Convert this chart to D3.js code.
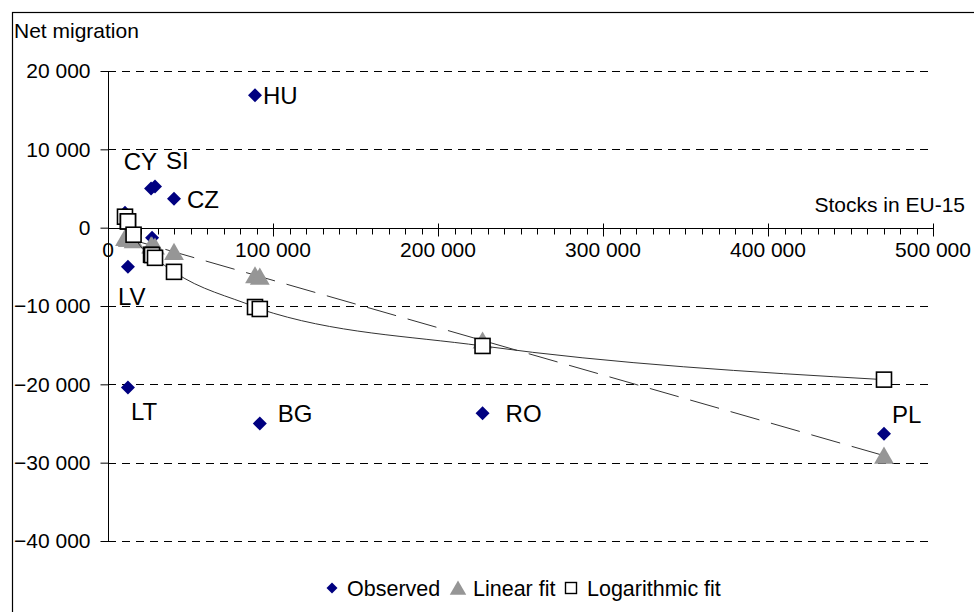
<!DOCTYPE html>
<html>
<head>
<meta charset="utf-8">
<script src="https://cdn.jsdelivr.net/npm/d3@7"></script>
<style>
  html, body { margin: 0; padding: 0; background: #fff; }
  svg { display: block; font-family: "Liberation Sans", Arial, sans-serif; }
</style>
</head>
<body>
<svg id="chart" width="974" height="612"></svg>
<script>
// Migrant stocks in EU-15 (x) against net migration (y), one entry per country
const countries  = ["EE", "LV", "LT", "SK", "CY", "MT", "SI", "CZ", "HU", "BG", "RO", "PL"];
const pointLabels = ["", "LV", "LT", "", "CY", "", "SI", "CZ", "HU", "BG", "RO", "PL"];
const stocks     = [10300, 12100, 12100, 15500, 26100, 26700, 28500, 40000, 89100, 92000, 227000, 470300];
const observed   = [1900, -5000, -20400, -900, 5000, -1300, 5260, 3700, 16900, -25000, -23700, -26300];
const linearFit  = [-1300, -1400, -1400, -1600, -2250, -2280, -2390, -3090, -6060, -6240, -14400, -29100];
const logFit     = [1400, 800, 800, -900, -3460, -3500, -3850, -5640, -10130, -10380, -15100, -19400];

const xTicks = [0, 100000, 200000, 300000, 400000, 500000];
const yTicks = [20000, 10000, 0, -10000, -20000, -30000, -40000];
const seriesNames = ["Observed", "Linear fit", "Logarithmic fit"];

const svg = d3.select("#chart");
const fmt = v => d3.format(",")(v).replace(/,/g, " ");

const x = d3.scaleLinear().domain([0, 500000]).range([108, 933]);
const y = d3.scaleLinear().domain([-40000, 20000]).range([541, 71]);

const navy = "#000080", grey = "#969696";

// outer frame
svg.append("rect").attr("x", 12.5).attr("y", 12.5).attr("width", 980).attr("height", 620)
  .attr("fill", "none").attr("stroke", "#000").attr("stroke-width", 1.2);

// horizontal dashed gridlines
svg.append("g").selectAll("line").data(yTicks).join("line")
  .attr("x1", 108).attr("x2", 930)
  .attr("y1", d => Math.round(y(d)) + 0.5).attr("y2", d => Math.round(y(d)) + 0.5)
  .attr("stroke", "#000").attr("stroke-width", 1).attr("stroke-dasharray", "8,6");

// y axis
const yAxis = d3.axisLeft(y).tickValues(yTicks).tickSize(8).tickFormat(fmt);
const gy = svg.append("g").attr("transform", "translate(108.5,0)").call(yAxis);
gy.select(".domain").attr("d", `M0,${y(20000)}V${y(-40000)}`).attr("stroke", "#000");
gy.selectAll(".tick text").attr("font-size", 21).attr("fill", "#000").attr("x", -18)
  .attr("font-family", "Liberation Sans, Arial, sans-serif");
gy.selectAll(".tick line").attr("stroke", "#000");

// x axis at zero with minor ticks every 10 000
const y0 = Math.round(y(0)) + 0.5;
const gx = svg.append("g");
gx.append("line").attr("x1", x(0)).attr("x2", x(500000)).attr("y1", y0).attr("y2", y0).attr("stroke", "#000");
gx.selectAll("line.minor").data(d3.range(0, 500001, 10000)).join("line").attr("class", "minor")
  .attr("x1", d => Math.round(x(d)) + 0.5).attr("x2", d => Math.round(x(d)) + 0.5)
  .attr("y1", y0).attr("y2", y0 + 6).attr("stroke", "#000");
gx.selectAll("line.major").data(xTicks).join("line").attr("class", "major")
  .attr("x1", d => Math.round(x(d)) + 0.5).attr("x2", d => Math.round(x(d)) + 0.5)
  .attr("y1", y0 - 5).attr("y2", y0 + 8).attr("stroke", "#000");
gx.selectAll("text").data(xTicks).join("text")
  .attr("x", d => x(d)).attr("y", y0 + 28).attr("text-anchor", "middle")
  .attr("font-size", 21).text(fmt);

// axis titles
svg.append("text").attr("x", 14).attr("y", 38).attr("font-size", 21).text("Net migration");
svg.append("text").attr("x", 965).attr("y", 212).attr("text-anchor", "end").attr("font-size", 21).text("Stocks in EU-15");

const pts = countries.map((c, i) => ({ c, label: pointLabels[i], sx: stocks[i], obs: observed[i], lin: linearFit[i], log: logFit[i] }));
const byX = pts.slice().sort((a, b) => a.sx - b.sx);

// marker shapes
const diamond = r => `M0,${-r}L${r},0L0,${r}L${-r},0Z`;
const triangle = r => `M0,${-r}L${r * 1.1},${r * 0.9}L${-r * 1.1},${r * 0.9}Z`;

// observed
svg.append("g").selectAll("path").data(pts).join("path")
  .attr("transform", d => `translate(${x(d.sx)},${y(d.obs)})`)
  .attr("d", diamond(7)).attr("fill", navy);

// linear fit line + markers
svg.append("path").datum(byX)
  .attr("d", d3.line().x(d => x(d.sx)).y(d => y(d.lin)))
  .attr("fill", "none").attr("stroke", "#333").attr("stroke-width", 1).attr("stroke-dasharray", "30,12");
svg.append("g").selectAll("path").data(pts).join("path")
  .attr("transform", d => `translate(${x(d.sx)},${y(d.lin)})`)
  .attr("d", triangle(9)).attr("fill", grey);

// logarithmic fit line + markers
svg.append("path").datum(byX)
  .attr("d", d3.line().x(d => x(d.sx)).y(d => y(d.log)).curve(d3.curveMonotoneX))
  .attr("fill", "none").attr("stroke", "#333").attr("stroke-width", 1);
svg.append("g").selectAll("rect").data(pts).join("rect")
  .attr("x", d => x(d.sx) - 7.5).attr("y", d => y(d.log) - 7.5)
  .attr("width", 15).attr("height", 15)
  .attr("fill", "#fff").attr("stroke", "#000").attr("stroke-width", 1.6);

// country labels, placed beside their observed markers
const labelOffset = {
  HU: [8, 9, "start"], CY: [6, -19, "end"], SI: [11, -17, "start"], CZ: [13, 9, "start"],
  LV: [-10, 38, "start"], LT: [3, 33, "start"], BG: [18, -2, "start"], RO: [23, 9, "start"], PL: [8, -11, "start"]
};
svg.append("g").selectAll("text").data(pts.filter(d => d.label)).join("text")
  .attr("x", d => x(d.sx) + labelOffset[d.label][0])
  .attr("y", d => y(d.obs) + labelOffset[d.label][1])
  .attr("text-anchor", d => labelOffset[d.label][2])
  .attr("font-size", 24).text(d => d.label);

// legend
const lg = svg.append("g").attr("transform", "translate(0,588)");
const legendItems = [
  { name: seriesNames[0], mx: 332, tx: 347, draw: g => g.append("path").attr("d", diamond(5.5)).attr("fill", navy) },
  { name: seriesNames[1], mx: 458, tx: 473, draw: g => g.append("path").attr("d", triangle(7.5)).attr("fill", grey) },
  { name: seriesNames[2], mx: 571, tx: 587, draw: g => g.append("rect").attr("x", -5.5).attr("y", -5.5).attr("width", 11).attr("height", 11).attr("fill", "#fff").attr("stroke", "#000").attr("stroke-width", 1.4) }
];
legendItems.forEach(it => {
  it.draw(lg.append("g").attr("transform", `translate(${it.mx},0)`));
  lg.append("text").attr("x", it.tx).attr("y", 8).attr("font-size", 21.5).text(it.name);
});
</script>
</body>
</html>
